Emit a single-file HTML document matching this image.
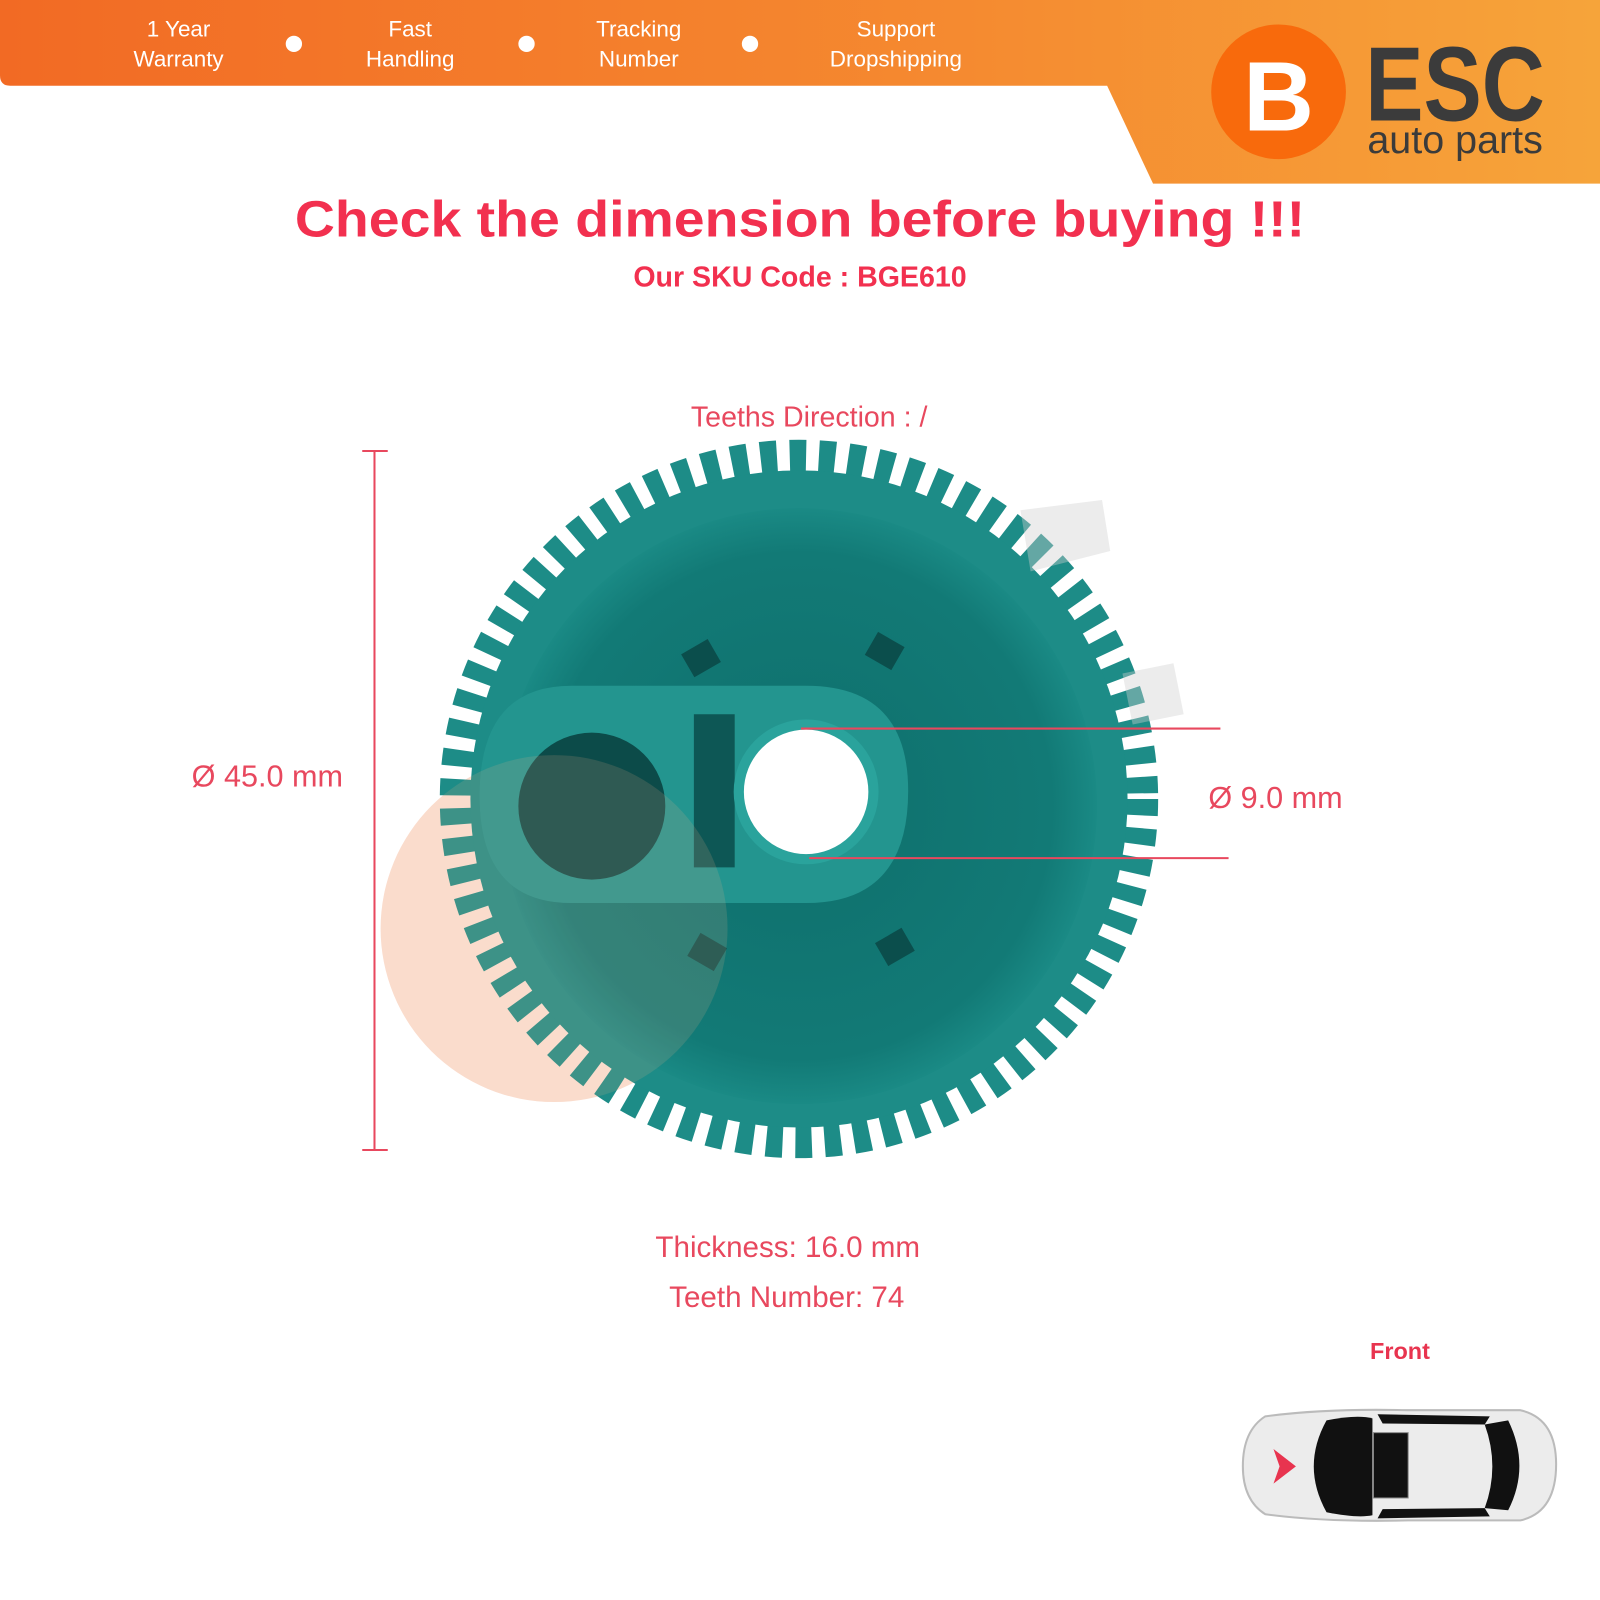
<!DOCTYPE html>
<html><head><meta charset="utf-8"><style>
html,body{margin:0;padding:0;background:#fff;width:1600px;height:1600px;overflow:hidden}
svg{display:block}
text{font-family:"Liberation Sans",sans-serif}
</style></head><body>
<svg width="1600" height="1600" viewBox="0 0 1568 1568" xmlns="http://www.w3.org/2000/svg">
<defs>
<linearGradient id="hg" x1="0" x2="1" y1="0" y2="0">
<stop offset="0" stop-color="#f26a24"/><stop offset="0.6" stop-color="#f58a30"/><stop offset="1" stop-color="#f6a43a"/>
</linearGradient>
<radialGradient id="gear" cx="0.5" cy="0.5" r="0.5">
<stop offset="0" stop-color="#0f6f6c"/><stop offset="0.85" stop-color="#127a76"/><stop offset="1" stop-color="#1a8a85"/>
</radialGradient>
</defs>
<rect width="1568" height="1568" fill="#fff"/>
<path d="M0,0 H1568 V180 H1130 L1085,84 H10 Q0,84 0,74 Z" fill="url(#hg)"/>
<g fill="#fff" font-size="22" text-anchor="middle">
<text x="175" y="36">1 Year</text><text x="175" y="65">Warranty</text>
<text x="402" y="36">Fast</text><text x="402" y="65">Handling</text>
<text x="626" y="36">Tracking</text><text x="626" y="65">Number</text>
<text x="878" y="36">Support</text><text x="878" y="65">Dropshipping</text>
<circle cx="288" cy="43" r="8"/><circle cx="516" cy="43" r="8"/><circle cx="735" cy="43" r="8"/>
</g>
<circle cx="1253" cy="90" r="66" fill="#f86a0c"/>
<text x="1253" y="128" font-size="96" font-weight="bold" fill="#fff" text-anchor="middle">B</text>
<text x="1338" y="118" font-size="104" font-weight="bold" fill="#3b3b3b" textLength="176" lengthAdjust="spacingAndGlyphs">ESC</text>
<text x="1340" y="150" font-size="38" fill="#3b3b3b" textLength="172" lengthAdjust="spacingAndGlyphs">auto parts</text>
<text x="784" y="232" font-size="50" font-weight="bold" fill="#f2304f" text-anchor="middle" textLength="990" lengthAdjust="spacingAndGlyphs">Check the dimension before buying !!!</text>
<text x="784" y="281" font-size="28" font-weight="bold" fill="#f2304f" text-anchor="middle">Our SKU Code : BGE610</text>
<text x="793" y="418" font-size="28" fill="#e8485e" text-anchor="middle">Teeths Direction : /</text>
<circle cx="543" cy="910" r="170" fill="#fbe3d8"/>
<circle cx="783" cy="783" r="334" fill="none" stroke="#1d8c87" stroke-width="36" stroke-dasharray="16 12.45"/>
<circle cx="783" cy="783" r="322" fill="#1d8c87"/>
<circle cx="783" cy="790" r="292" fill="url(#gear)"/>
<g fill="#0b4e4c">
<rect x="672" y="632" width="30" height="26" transform="rotate(-30 687 645)"/>
<rect x="852" y="625" width="30" height="26" transform="rotate(30 867 638)"/>
<rect x="678" y="920" width="30" height="26" transform="rotate(30 693 933)"/>
<rect x="862" y="915" width="30" height="26" transform="rotate(-30 877 928)"/>
</g>
<path d="M560,672 H790 Q890,672 890,775 Q890,885 790,885 H560 Q470,885 470,780 Q470,672 560,672 Z" fill="#23958f"/>
<circle cx="580" cy="790" r="72" fill="#0c4b49"/>
<path d="M680,700 L720,700 L720,850 L680,850 Z" fill="#0d5755"/>
<circle cx="790" cy="776" r="66" fill="#fff"/>
<circle cx="790" cy="776" r="66" fill="none" stroke="#2aa39c" stroke-width="10"/>
<circle cx="543" cy="910" r="170" fill="#f7b38f" opacity="0.15"/>
<path d="M1000,500 L1080,490 L1088,540 L1010,560 Z M1100,660 L1150,650 L1160,700 L1110,710 Z" fill="#cfcfcf" opacity="0.4"/>
<g stroke="#e8485e" stroke-width="2">
<line x1="367" y1="442" x2="367" y2="1127"/>
<line x1="355" y1="442" x2="380" y2="442"/>
<line x1="355" y1="1127" x2="380" y2="1127"/>
<line x1="785" y1="714" x2="1196" y2="714"/>
<line x1="793" y1="841" x2="1204" y2="841"/>
</g>
<text x="262" y="771" font-size="30" fill="#e8485e" text-anchor="middle">Ø 45.0 mm</text>
<text x="1250" y="792" font-size="30" fill="#e8485e" text-anchor="middle">Ø 9.0 mm</text>
<text x="772" y="1232" font-size="29" fill="#e8485e" text-anchor="middle">Thickness: 16.0 mm</text>
<text x="771" y="1281" font-size="29" fill="#e8485e" text-anchor="middle">Teeth Number: 74</text>
<text x="1372" y="1332" font-size="23" font-weight="bold" fill="#e8344f" text-anchor="middle">Front</text>
<path d="M1240,1388 Q1300,1380 1380,1382 L1490,1382 Q1525,1390 1525,1435 Q1525,1482 1490,1490 L1380,1490 Q1300,1492 1240,1484 Q1218,1470 1218,1437 Q1218,1402 1240,1388 Z" fill="#ececec" stroke="#bbb" stroke-width="2"/>
<path d="M1300,1392 Q1330,1386 1345,1390 L1345,1485 Q1330,1488 1300,1482 Q1275,1437 1300,1392 Z" fill="#111"/>
<rect x="1346" y="1404" width="34" height="64" fill="#111" stroke="#888" stroke-width="1"/>
<path d="M1478,1392 Q1500,1437 1478,1480 L1455,1478 Q1470,1437 1455,1396 Z" fill="#111"/>
<path d="M1350,1386 L1460,1388 L1455,1396 L1355,1395 Z M1350,1488 L1460,1486 L1455,1478 L1355,1479 Z" fill="#111"/>
<path d="M1248,1420 L1270,1437 L1248,1454 L1254,1437 Z" fill="#e8344f"/>
</svg>
</body></html>
